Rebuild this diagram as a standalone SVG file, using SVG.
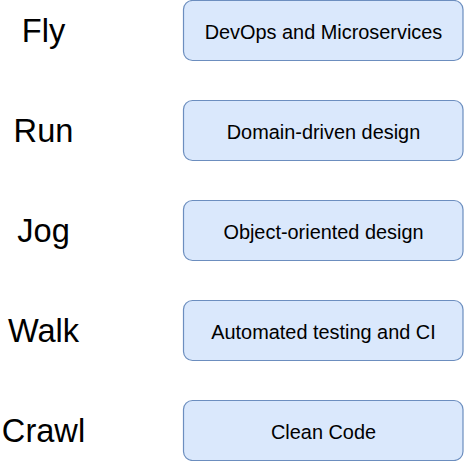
<svg xmlns="http://www.w3.org/2000/svg" width="464" height="461" viewBox="0 0 464 461">
<style>
.box{fill:#dae8fc;stroke:#6c8ebf;stroke-width:1.2}
.bt{font-family:"Liberation Sans",Arial,sans-serif;font-size:19.9px;fill:#000;text-anchor:middle}
.lt{font-family:"Liberation Sans",Arial,sans-serif;font-size:32.6px;fill:#000;text-anchor:middle}
</style>
<rect width="464" height="461" fill="#fff"/>
<g id="connectors"></g>
<g id="label-fly"><text class="lt" x="43.5" y="42">Fly</text></g>
<g id="label-run"><text class="lt" x="43.5" y="142">Run</text></g>
<g id="label-jog"><text class="lt" x="43.5" y="242">Jog</text></g>
<g id="label-walk"><text class="lt" x="43.5" y="342">Walk</text></g>
<g id="label-crawl"><text class="lt" x="43.5" y="442">Crawl</text></g>
<g id="node-devops"><rect class="box" x="183.5" y="0.5" width="279.5" height="60" rx="9"/><text class="bt" x="323.5" y="38.5">DevOps and Microservices</text></g>
<g id="node-ddd"><rect class="box" x="183.5" y="100.5" width="279.5" height="60" rx="9"/><text class="bt" x="323.5" y="138.5">Domain-driven design</text></g>
<g id="node-ood"><rect class="box" x="183.5" y="200.5" width="279.5" height="60" rx="9"/><text class="bt" x="323.5" y="238.5">Object-oriented design</text></g>
<g id="node-testing"><rect class="box" x="183.5" y="300.5" width="279.5" height="60" rx="9"/><text class="bt" x="323.5" y="338.5">Automated testing and CI</text></g>
<g id="node-clean"><rect class="box" x="183.5" y="400.5" width="279.5" height="60" rx="9"/><text class="bt" x="323.5" y="438.5">Clean Code</text></g>
</svg>
